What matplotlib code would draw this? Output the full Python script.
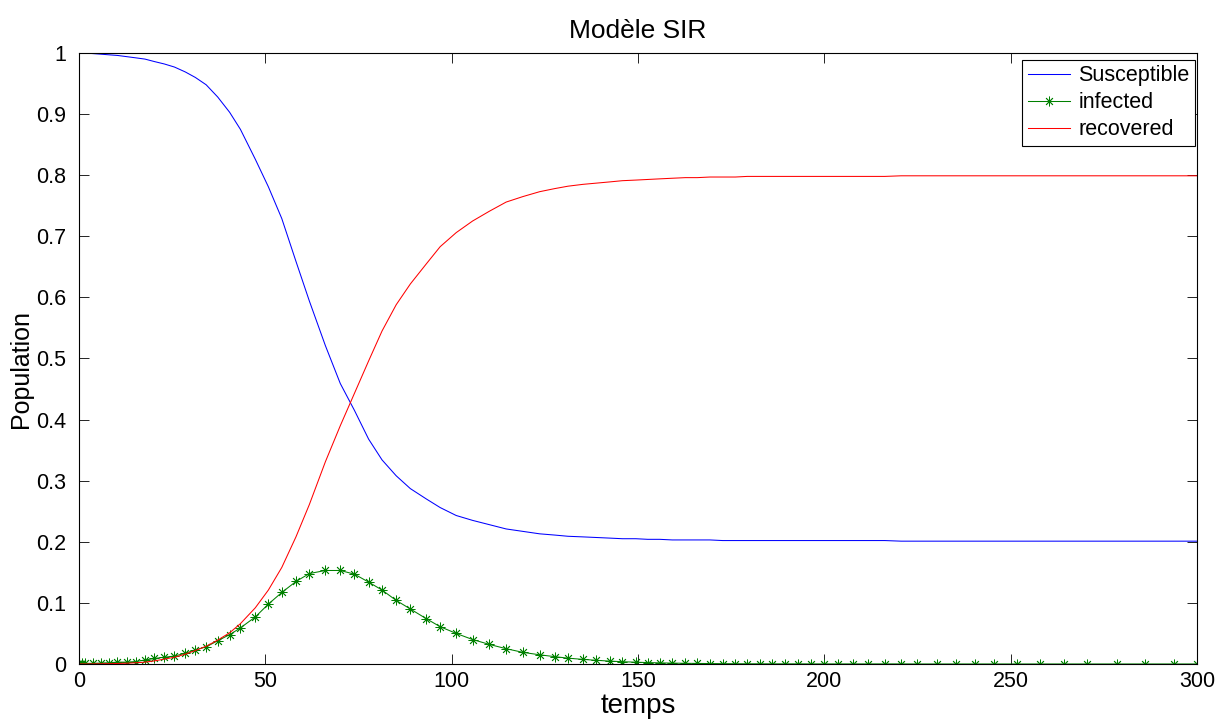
import matplotlib.pyplot as plt

plt.rcParams["font.family"] = ["Liberation Sans", "DejaVu Sans"]

# solver time steps
t = [0, 0.7, 1.6, 3.8, 6.0, 8.1, 10.3, 12.8, 15.3, 17.7, 20.2, 22.9, 25.6,
     28.5, 31.2, 34.1, 37.2, 40.4, 43.3, 47.3, 50.8, 54.4, 58.2, 61.8, 66.1,
     70.1, 73.9, 77.7, 81.3, 85.1, 88.9, 93.2, 96.9, 101.2, 105.6, 110.1,
     114.6, 119.1, 123.6, 127.6, 131.2, 135.2, 138.8, 142.4, 145.8, 149.4,
     152.6, 155.8, 159.2, 162.7, 165.9, 169.3, 172.7, 176.1, 179.3, 182.6,
     186.0, 189.3, 192.9, 196.3, 199.9, 203.6, 207.7, 211.8, 216.2, 220.6,
     224.9, 230.1, 235.2, 240.4, 245.5, 251.6, 257.9, 264.3, 270.6, 278.4,
     286.1, 293.9, 300.0]

susceptible = [1.000, 1.000, 1.000, 0.999, 0.998, 0.997, 0.996, 0.994, 0.992,
               0.990, 0.986, 0.982, 0.977, 0.969, 0.960, 0.948, 0.928, 0.903,
               0.875, 0.826, 0.781, 0.729, 0.659, 0.594, 0.521, 0.459, 0.415,
               0.368, 0.334, 0.308, 0.287, 0.270, 0.256, 0.243, 0.235, 0.228,
               0.221, 0.217, 0.213, 0.211, 0.209, 0.208, 0.207, 0.206, 0.205,
               0.205, 0.204, 0.204, 0.203, 0.203, 0.203, 0.203, 0.202, 0.202,
               0.202, 0.202, 0.202, 0.202, 0.202, 0.202, 0.202, 0.202, 0.202,
               0.202, 0.202, 0.201, 0.201, 0.201, 0.201, 0.201, 0.201, 0.201,
               0.201, 0.201, 0.201, 0.201, 0.201, 0.201, 0.201]

infected = [0.001, 0.001, 0.001, 0.001, 0.0016, 0.002, 0.003, 0.003, 0.004,
            0.0065, 0.009, 0.011, 0.013, 0.0175, 0.023, 0.028, 0.038, 0.048,
            0.059, 0.077, 0.098, 0.117, 0.135, 0.148, 0.153, 0.153, 0.147,
            0.134, 0.121, 0.104, 0.090, 0.074, 0.061, 0.050, 0.040, 0.032,
            0.025, 0.019, 0.015, 0.012, 0.0095, 0.0075, 0.006, 0.0047, 0.0037,
            0.0029, 0.0023, 0.0018, 0.0014, 0.0011, 0.0009, 0.0007, 0.0005,
            0.0004, 0.0003, 0.0003, 0.0002, 0.0002, 0.0002, 0.0001, 0.0001,
            0.0001, 0.0001, 0.0001, 0.0001, 0.0001, 0.0, 0.0, 0.0, 0.0, 0.0,
            0.0, 0.0, 0.0, 0.0, 0.0, 0.0, 0.0, 0.0]

recovered = [0.0, 0.0, 0.0, 0.0001, 0.0003, 0.0005, 0.0008, 0.0012, 0.002,
             0.003, 0.005, 0.008, 0.011, 0.016, 0.022, 0.029, 0.039, 0.051,
             0.066, 0.092, 0.121, 0.158, 0.208, 0.261, 0.331, 0.390, 0.443,
             0.496, 0.545, 0.588, 0.622, 0.655, 0.683, 0.706, 0.725, 0.741,
             0.756, 0.765, 0.773, 0.778, 0.782, 0.785, 0.787, 0.789, 0.791,
             0.792, 0.793, 0.794, 0.795, 0.796, 0.796, 0.797, 0.797, 0.797,
             0.798, 0.798, 0.798, 0.798, 0.798, 0.798, 0.798, 0.798, 0.798,
             0.798, 0.798, 0.799, 0.799, 0.799, 0.799, 0.799, 0.799, 0.799,
             0.799, 0.799, 0.799, 0.799, 0.799, 0.799, 0.799]

xticks = [0, 50, 100, 150, 200, 250, 300]
yticks = [0, 0.1, 0.2, 0.3, 0.4, 0.5, 0.6, 0.7, 0.8, 0.9, 1]
ytick_labels = ["0", "0.1", "0.2", "0.3", "0.4", "0.5", "0.6", "0.7", "0.8", "0.9", "1"]

fig = plt.figure(figsize=(12.2, 7.21), dpi=100)
ax = fig.add_axes([0.0648, 0.0791, 0.9164, 0.8474])

ax.plot(t, susceptible, color=(0, 0, 1), lw=0.75, label="Susceptible")
ax.plot(t, infected, color=(0, 0.5, 0), lw=0.75, marker=(8, 2, 0),
        markersize=7, markeredgewidth=0.6, label="infected")
ax.plot(t, recovered, color=(1, 0, 0), lw=0.75, label="recovered")

ax.set_xlim(0, 300)
ax.set_ylim(0, 1)
ax.set_xticks(xticks)
ax.set_xticklabels([str(x) for x in xticks])
ax.set_yticks(yticks)
ax.set_yticklabels(ytick_labels)
ax.tick_params(direction="in", length=7, width=0.6, labelsize=15.5,
               top=True, right=True)
ax.tick_params(axis="y", pad=9)
ax.tick_params(axis="x", pad=5)
for sp in ax.spines.values():
    sp.set_linewidth(0.8)

ax.set_title("Modèle SIR", fontsize=19, pad=11)
ax.set_xlabel("temps", fontsize=20, labelpad=1)
ax.set_ylabel("Population", fontsize=18)
ax.yaxis.set_label_coords(-0.041, 0.483)

leg = ax.legend(loc="upper right", bbox_to_anchor=(0.9795, 0.9168),
                bbox_transform=fig.transFigure, borderaxespad=0,
                fontsize=15.5, fancybox=False, framealpha=1,
                edgecolor="black", handlelength=1.95, handletextpad=0.4,
                borderpad=0.25, labelspacing=0.28)
leg.get_frame().set_linewidth(0.8)

fig.savefig("out.png", dpi=100)
